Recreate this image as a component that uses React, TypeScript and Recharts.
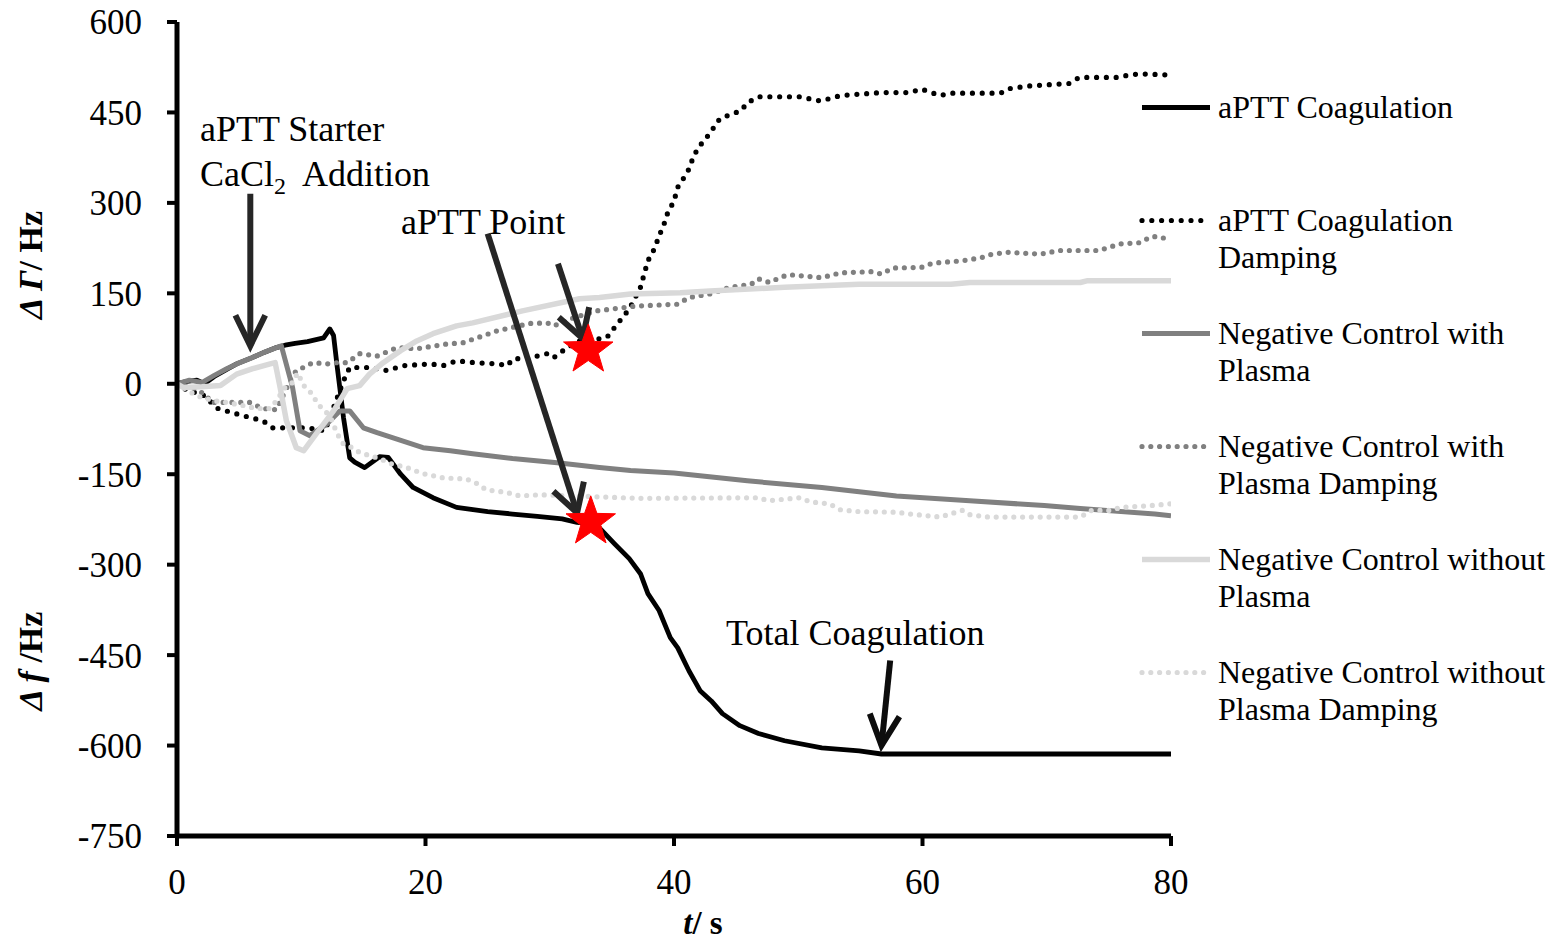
import React from 'react';
import { LineChart, Line, XAxis, YAxis, ReferenceDot, ReferenceLine, Legend } from 'recharts';

const FONT = '"Liberation Serif", "Times New Roman", serif';

// ---- Data (time in s, value in Hz) ----
const coagT = [0, 0.8, 1.6, 2.2, 3, 4, 4.8, 6, 7, 8, 8.7, 9.5, 10.5, 11.8, 12.3, 12.6, 12.9, 13.4, 13.9, 14.3, 15.1, 16.3, 17, 18, 19, 20.6, 22.5, 25, 27, 29, 31, 32.2, 33.2, 34, 35.2, 36.4, 37.3, 37.9, 38.8, 39.7, 40.3, 41.2, 42.1, 43, 43.9, 45.3, 46.8, 48.9, 51.9, 54.9, 56.7, 60, 70, 80];
const coagV = [0, 4, 6, 0, 12, 24, 33, 43, 52, 60, 64, 67, 70, 76, 91, 80, 27, -56, -123, -130, -139, -121, -122, -150, -172, -189, -205, -212, -216, -220, -224, -230, -232, -239, -265, -290, -315, -348, -376, -421, -438, -476, -509, -526, -547, -567, -580, -592, -604, -609, -614, -614, -614, -614];

const coagDampT = [0, 0.9, 2, 3.3, 4.8, 5.9, 6.9, 7.7, 8.7, 10.5, 11.9, 12.9, 13.4, 13.9, 15.5, 16.9, 18.2, 20.4, 21.4, 22.5, 24, 25.8, 26.6, 27, 28.4, 29.8, 30.3, 31.4, 32.4, 33.5, 34.6, 35.2, 36.4, 37.3, 37.6, 37.9, 38.4, 38.8, 39.2, 39.5, 40, 40.3, 40.9, 41.2, 41.5, 41.9, 42.4, 42.8, 43.3, 43.7, 44.5, 45.4, 45.9, 46.8, 50.1, 51.8, 53.4, 56.7, 59, 59.9, 61.4, 62.3, 66.3, 66.8, 68.6, 71.8, 72.6, 75.7, 76.6, 77.5, 80];
const coagDampV = [0, -12, -17, -41, -50, -56, -61, -73, -73, -73, -78, -23, 5, 27, 27, 22, 30, 33, 30, 38, 35, 33, 30, 41, 43, 50, 43, 60, 71, 73, 77, 93, 124, 160, 182, 204, 223, 245, 265, 284, 303, 326, 345, 356, 373, 390, 403, 413, 428, 440, 446, 453, 466, 476, 476, 469, 478, 483, 483, 489, 478, 482, 482, 489, 494, 498, 508, 508, 512, 514, 512];

const ncPlasmaT = [0, 1, 2, 3, 4, 4.8, 6, 7, 8, 8.4, 9.3, 9.9, 10.7, 12.1, 13.1, 13.9, 15, 16.1, 18.2, 19.8, 22, 23.8, 27, 30.6, 34, 36.5, 40, 45.9, 51.9, 57.9, 63.8, 69.8, 72.7, 78.7, 80];
const ncPlasmaV = [0, 6, 2, 14, 25, 33, 43, 52, 60, 63, -6, -78, -86, -66, -45, -45, -73, -81, -95, -106, -111, -116, -124, -131, -139, -144, -148, -161, -172, -186, -194, -202, -207, -216, -219];

const ncPlasmaDampT = [0, 1.5, 2.4, 2.7, 4, 5.9, 6.9, 8, 9.1, 9.6, 10.5, 10.9, 12.1, 12.9, 13.7, 14.7, 16.1, 17.7, 19.3, 21.7, 23, 25.8, 28.4, 29.8, 30.3, 32, 33.8, 37, 40.3, 41.2, 42.9, 44.5, 46.2, 46.8, 47.7, 48.5, 49.2, 51.9, 53.4, 55.9, 56.7, 57.6, 59.9, 60.8, 63.2, 64.7, 65.6, 66.9, 69.5, 71, 74.2, 75.9, 77.5, 78.4, 79.1, 80];
const ncPlasmaDampV = [0, -8, -20, -31, -31, -31, -41, -43, 5, 22, 30, 35, 33, 35, 35, 50, 46, 60, 58, 66, 68, 88, 100, 101, 96, 110, 121, 129, 132, 143, 149, 160, 165, 174, 168, 176, 181, 176, 184, 186, 182, 192, 193, 200, 204, 209, 215, 218, 215, 221, 221, 232, 234, 244, 244, 237];

const ncNoPlasmaT = [0, 0.5, 2, 3.5, 4.8, 6.1, 7.5, 7.9, 8.3, 8.8, 9.6, 10.2, 11.2, 12.6, 13.7, 14.7, 15.5, 16.6, 18, 19.3, 20.6, 22.5, 23.8, 27.8, 32.4, 34, 36.5, 40.5, 42.9, 48.9, 54.9, 62.3, 63.8, 72.7, 73.3, 80];
const ncNoPlasmaV = [0, -6, -5, -3, 16, 25, 33, 35, -6, -61, -106, -111, -83, -45, -8, -3, 16, 35, 55, 71, 83, 96, 101, 121, 141, 143, 149, 151, 154, 160, 165, 165, 168, 168, 171, 171];

const ncNoPlasmaDampT = [0, 1.6, 2.9, 4, 5.3, 6.4, 7.5, 8, 8.7, 9.3, 9.7, 10.3, 10.9, 11.3, 12.3, 12.9, 13.4, 14.1, 14.7, 15.5, 16.3, 17.3, 18.5, 19.8, 21.4, 23.3, 24.2, 24.9, 26.5, 27.6, 29.2, 37.3, 46.8, 47.6, 50.1, 51, 52.5, 53.4, 54.9, 57.9, 59, 61.4, 63.2, 63.8, 65.3, 72.7, 73.6, 75.1, 76, 78.4, 80];
const ncNoPlasmaDampV = [0, -20, -28, -31, -36, -41, -41, -28, -6, 2, 18, -6, -17, -33, -53, -83, -100, -106, -114, -119, -124, -133, -139, -149, -156, -158, -166, -176, -180, -186, -184, -190, -189, -194, -189, -196, -199, -209, -212, -213, -216, -221, -210, -217, -221, -221, -210, -210, -205, -202, -199];

const xTicks = [0, 20, 40, 60, 80];
const yTicks = [-750, -600, -450, -300, -150, 0, 150, 300, 450, 600];

const seriesNames = [
  'aPTT Coagulation',
  'aPTT Coagulation Damping',
  'Negative Control with Plasma',
  'Negative Control with Plasma Damping',
  'Negative Control without Plasma',
  'Negative Control without Plasma Damping',
];
const legendLines = [
  ['aPTT Coagulation'],
  ['aPTT Coagulation', 'Damping'],
  ['Negative Control with', 'Plasma'],
  ['Negative Control with', 'Plasma Damping'],
  ['Negative Control without', 'Plasma'],
  ['Negative Control without', 'Plasma Damping'],
];

// annotation anchors (data coordinates)
const aptStars = [
  { t: 33.1, v: 56 },
  { t: 33.3, v: -229 },
];

const zip = (t: number[], v: number[]) => t.map((x, i) => ({ t: x, v: v[i] }));

const series = [
  { name: seriesNames[0], data: zip(coagT, coagV), color: '#000000', width: 4.8, dash: undefined as string | undefined },
  { name: seriesNames[1], data: zip(coagDampT, coagDampV), color: '#000000', width: 5.2, dash: '0 9.8' },
  { name: seriesNames[2], data: zip(ncPlasmaT, ncPlasmaV), color: '#808080', width: 5, dash: undefined },
  { name: seriesNames[3], data: zip(ncPlasmaDampT, ncPlasmaDampV), color: '#808080', width: 5.2, dash: '0 8.8' },
  { name: seriesNames[4], data: zip(ncNoPlasmaT, ncNoPlasmaV), color: '#d9d9d9', width: 5.5, dash: undefined },
  { name: seriesNames[5], data: zip(ncNoPlasmaDampT, ncNoPlasmaDampV), color: '#d9d9d9', width: 5.2, dash: '0 8.8' },
];

const makeArrow = (color: string, armLen: number, armDeg: number, w: number) => (p: any) => {
  const x1 = Number(p.x1), y1 = Number(p.y1), x2 = Number(p.x2), y2 = Number(p.y2);
  const back = Math.atan2(y1 - y2, x1 - x2);
  const a = (armDeg * Math.PI) / 180;
  const ax = x2 + armLen * Math.cos(back + a);
  const ay = y2 + armLen * Math.sin(back + a);
  const bx = x2 + armLen * Math.cos(back - a);
  const by = y2 + armLen * Math.sin(back - a);
  return (
    <g>
      <line x1={x1} y1={y1} x2={x2} y2={y2} stroke={color} strokeWidth={w} />
      <polyline points={`${ax},${ay} ${x2},${y2} ${bx},${by}`} fill="none" stroke={color} strokeWidth={w} strokeLinejoin="miter" />
    </g>
  );
};

const starShape = (p: any) => {
  const cx = Number(p.cx), cy = Number(p.cy);
  const R = 26, r = 10.5;
  const pts: string[] = [];
  for (let i = 0; i < 10; i++) {
    const rad = i % 2 === 0 ? R : r;
    const ang = -Math.PI / 2 + (i * Math.PI) / 5;
    pts.push(`${cx + rad * Math.cos(ang)},${cy + rad * Math.sin(ang)}`);
  }
  return <polygon points={pts.join(' ')} fill="#ff0000" stroke="#ff0000" strokeWidth={1} />;
};

const textShape = (content: React.ReactNode) => (p: any) => (
  <text x={Number(p.cx)} y={Number(p.cy)} fontFamily={FONT} fontSize={36} fill="#000">
    {content}
  </text>
);

const YTitles = () => (
  <g fontFamily={FONT} fontWeight="bold" fontSize={34} fill="#000">
    <text x={42} y={265} textAnchor="middle" transform="rotate(-90, 42, 265)">
      <tspan fontStyle="italic">Δ Γ</tspan>
      <tspan>/ Hz</tspan>
    </text>
    <text x={42} y={661} textAnchor="middle" transform="rotate(-90, 42, 661)">
      <tspan fontStyle="italic">Δ f</tspan>
      <tspan> /Hz</tspan>
    </text>
  </g>
);

const XTitle = (p: any) => {
  const vb = p.viewBox || { x: 177, y: 836, width: 994 };
  const cx = vb.x + vb.width / 2 + 29;
  return (
    <text x={cx} y={934} textAnchor="middle" fontFamily={FONT} fontWeight="bold" fontSize={33} fill="#000">
      <tspan fontStyle="italic">t</tspan>
      <tspan>/ s</tspan>
    </text>
  );
};

const LegendBox = () => (
  <div style={{ fontFamily: FONT, fontSize: 32, color: '#000' }}>
    {series.map((s, i) => (
      <div key={s.name} style={{ display: 'flex', alignItems: 'flex-start', height: 113 }}>
        <svg width={76} height={37} style={{ flex: 'none' }}>
          <line x1={4} x2={72} y1={18.5} y2={18.5} stroke={s.color} strokeWidth={s.width}
            strokeDasharray={s.dash} strokeLinecap={s.dash ? 'round' : 'butt'} />
        </svg>
        <div style={{ marginLeft: 4, lineHeight: '37px', whiteSpace: 'nowrap' }}>
          {legendLines[i].map((l) => (
            <div key={l}>{l}</div>
          ))}
        </div>
      </div>
    ))}
  </div>
);

export default function App() {
  return (
    <div style={{ position: 'absolute', left: 0, top: 0, width: 1559, height: 945, background: '#fff' }}>
      <LineChart width={1559} height={945} margin={{ top: 22, right: 388, bottom: 49, left: 97 }}>
        <XAxis
          type="number"
          dataKey="t"
          domain={[0, 80]}
          ticks={xTicks}
          allowDataOverflow
          axisLine={{ stroke: '#000', strokeWidth: 5 }}
          tickLine={{ stroke: '#000', strokeWidth: 4 }}
          tickSize={10}
          tickMargin={23}
          height={60}
          tick={{ fontFamily: FONT, fontSize: 35, fill: '#000' }}
          label={{ content: XTitle }}
        />
        <YAxis
          type="number"
          dataKey="v"
          domain={[-750, 600]}
          ticks={yTicks}
          allowDataOverflow
          axisLine={{ stroke: '#000', strokeWidth: 5 }}
          tickLine={{ stroke: '#000', strokeWidth: 4 }}
          tickSize={10}
          tickMargin={25}
          width={80}
          tick={{ fontFamily: FONT, fontSize: 35, fill: '#000' }}
          label={{ content: YTitles }}
        />
        <Legend layout="vertical" align="center" verticalAlign="middle"
          wrapperStyle={{ left: 1138, top: 89, width: 421 }} content={LegendBox} />
        {series.map((s) => (
          <Line
            key={s.name}
            name={s.name}
            data={s.data}
            dataKey="v"
            type="linear"
            stroke={s.color}
            strokeWidth={s.width}
            strokeDasharray={s.dash}
            strokeLinecap={s.dash ? 'round' : 'butt'}
            strokeLinejoin="round"
            dot={false}
            activeDot={false}
            isAnimationActive={false}
          />
        ))}
        {/* annotation arrows */}
        <ReferenceLine segment={[{ x: 5.9, y: 315 }, { x: 5.9, y: 63 }]} shape={makeArrow('#262626', 34, 26, 6)} />
        <ReferenceLine segment={[{ x: 25.0, y: 249 }, { x: 32.2, y: -214 }]} shape={makeArrow('#262626', 32, 30, 6)} />
        <ReferenceLine segment={[{ x: 30.66, y: 199 }, { x: 32.65, y: 75 }]} shape={makeArrow('#262626', 32, 30, 6)} />
        <ReferenceLine segment={[{ x: 57.4, y: -459 }, { x: 56.7, y: -600 }]} shape={makeArrow('#0d0d0d', 34, 26, 6)} />
        {/* aPTT points */}
        {aptStars.map((s, i) => (
          <ReferenceDot key={i} x={s.t} y={s.v} r={26} shape={starShape} />
        ))}
        {/* annotation texts */}
        <ReferenceDot x={1.85} y={403} r={0} shape={textShape('aPTT Starter')} />
        <ReferenceDot x={1.85} y={328} r={0} shape={textShape(
          <>
            <tspan>CaCl</tspan>
            <tspan dy={8} fontSize={24}>2</tspan>
            <tspan dy={-8}>{'\u00a0 Addition'}</tspan>
          </>
        )} />
        <ReferenceDot x={18.03} y={249} r={0} shape={textShape('aPTT Point')} />
        <ReferenceDot x={44.19} y={-434} r={0} shape={textShape('Total Coagulation')} />
      </LineChart>
    </div>
  );
}
